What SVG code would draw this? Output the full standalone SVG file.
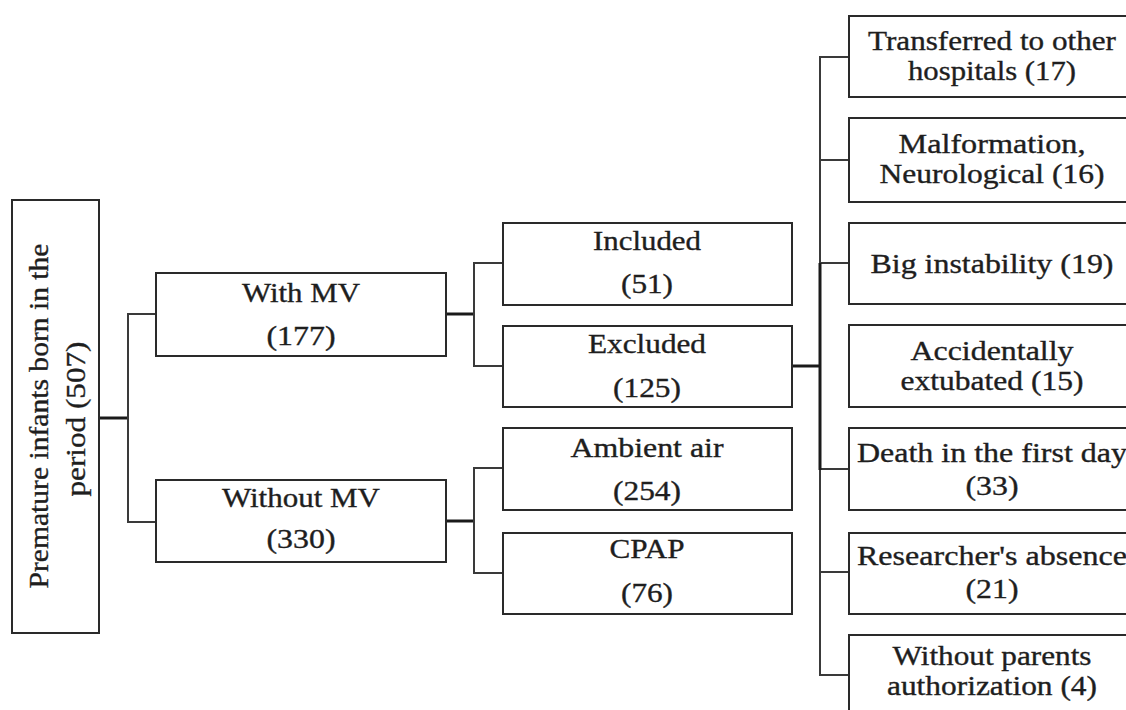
<svg xmlns="http://www.w3.org/2000/svg" width="1126" height="710" viewBox="0 0 1126 710">
<style>
rect.box{fill:#fff;stroke:#2a2a2a;stroke-width:2}
text{font-family:"Liberation Serif","Times New Roman",serif;font-size:27px;fill:#1e1e1e;stroke:#1e1e1e;stroke-width:0.35;text-anchor:middle}
.c{fill:none;stroke:#3a3a3a;stroke-width:2}
.t{fill:none;stroke:#1a1a1a;stroke-width:3}
</style>
<rect width="1126" height="710" fill="#fff"/>
<g id="connectors">
<path class="t" d="M99 418H128"/>
<path class="c" d="M156 314H128V522H156"/>
<path class="t" d="M446 314H474"/>
<path class="c" d="M503 263H474V366H503"/>
<path class="t" d="M446 521H474"/>
<path class="c" d="M503 468H474V573H503"/>
<path class="t" d="M792 366H820"/>
<path class="c" d="M849 57H820V675H849M820 160H849M820 263H849M820 469H849M820 572H849"/>
<path class="t" d="M820 263V470"/>
</g>
<g id="root">
<rect class="box" x="12" y="200" width="87" height="433"/>
<text transform="translate(48,416) rotate(-90)" font-size="28" textLength="345" lengthAdjust="spacingAndGlyphs">Premature infants born in the</text>
<text transform="translate(85,419) rotate(-90)" font-size="28" textLength="155" lengthAdjust="spacingAndGlyphs">period (507)</text>
</g>
<g id="with-mv">
<rect class="box" x="156" y="273" width="290" height="83"/>
<text x="301" y="302" textLength="118" lengthAdjust="spacingAndGlyphs">With MV</text>
<text x="301" y="345" textLength="69" lengthAdjust="spacingAndGlyphs">(177)</text>
</g>
<g id="without-mv">
<rect class="box" x="156" y="480" width="290" height="82"/>
<text x="301" y="507" textLength="158" lengthAdjust="spacingAndGlyphs">Without MV</text>
<text x="301" y="548" textLength="69" lengthAdjust="spacingAndGlyphs">(330)</text>
</g>
<g id="included">
<rect class="box" x="503" y="223" width="289" height="82"/>
<text x="647" y="250" textLength="108" lengthAdjust="spacingAndGlyphs">Included</text>
<text x="647" y="293" textLength="52" lengthAdjust="spacingAndGlyphs">(51)</text>
</g>
<g id="excluded">
<rect class="box" x="503" y="326" width="289" height="81"/>
<text x="647" y="353" textLength="118" lengthAdjust="spacingAndGlyphs">Excluded</text>
<text x="647" y="397" textLength="68" lengthAdjust="spacingAndGlyphs">(125)</text>
</g>
<g id="ambient-air">
<rect class="box" x="503" y="428" width="289" height="82"/>
<text x="647" y="457" textLength="153" lengthAdjust="spacingAndGlyphs">Ambient air</text>
<text x="647" y="500" textLength="68" lengthAdjust="spacingAndGlyphs">(254)</text>
</g>
<g id="cpap">
<rect class="box" x="503" y="533" width="289" height="81"/>
<text x="647" y="558" textLength="75" lengthAdjust="spacingAndGlyphs">CPAP</text>
<text x="647" y="602" textLength="52" lengthAdjust="spacingAndGlyphs">(76)</text>
</g>
<g id="transferred">
<rect class="box" x="849" y="16" width="290" height="81"/>
<text x="992" y="50" textLength="248" lengthAdjust="spacingAndGlyphs">Transferred to other</text>
<text x="992" y="80" textLength="168" lengthAdjust="spacingAndGlyphs">hospitals (17)</text>
</g>
<g id="malformation">
<rect class="box" x="849" y="118" width="290" height="84"/>
<text x="992" y="153" textLength="187" lengthAdjust="spacingAndGlyphs">Malformation,</text>
<text x="992" y="183" textLength="225" lengthAdjust="spacingAndGlyphs">Neurological (16)</text>
</g>
<g id="big-instability">
<rect class="box" x="849" y="223" width="290" height="81"/>
<text x="992" y="273" textLength="243" lengthAdjust="spacingAndGlyphs">Big instability (19)</text>
</g>
<g id="accidentally">
<rect class="box" x="849" y="325" width="290" height="82"/>
<text x="992" y="360" textLength="163" lengthAdjust="spacingAndGlyphs">Accidentally</text>
<text x="992" y="390" textLength="183" lengthAdjust="spacingAndGlyphs">extubated (15)</text>
</g>
<g id="death">
<rect class="box" x="849" y="428" width="290" height="82"/>
<text x="992" y="462" textLength="270" lengthAdjust="spacingAndGlyphs">Death in the first day</text>
<text x="992" y="495" textLength="53" lengthAdjust="spacingAndGlyphs">(33)</text>
</g>
<g id="researcher">
<rect class="box" x="849" y="533" width="290" height="81"/>
<text x="992" y="565" textLength="270" lengthAdjust="spacingAndGlyphs">Researcher's absence</text>
<text x="992" y="598" textLength="53" lengthAdjust="spacingAndGlyphs">(21)</text>
</g>
<g id="without-parents">
<rect class="box" x="849" y="635" width="290" height="90"/>
<text x="992" y="665" textLength="199" lengthAdjust="spacingAndGlyphs">Without parents</text>
<text x="992" y="695" textLength="210" lengthAdjust="spacingAndGlyphs">authorization (4)</text>
</g>
</svg>
